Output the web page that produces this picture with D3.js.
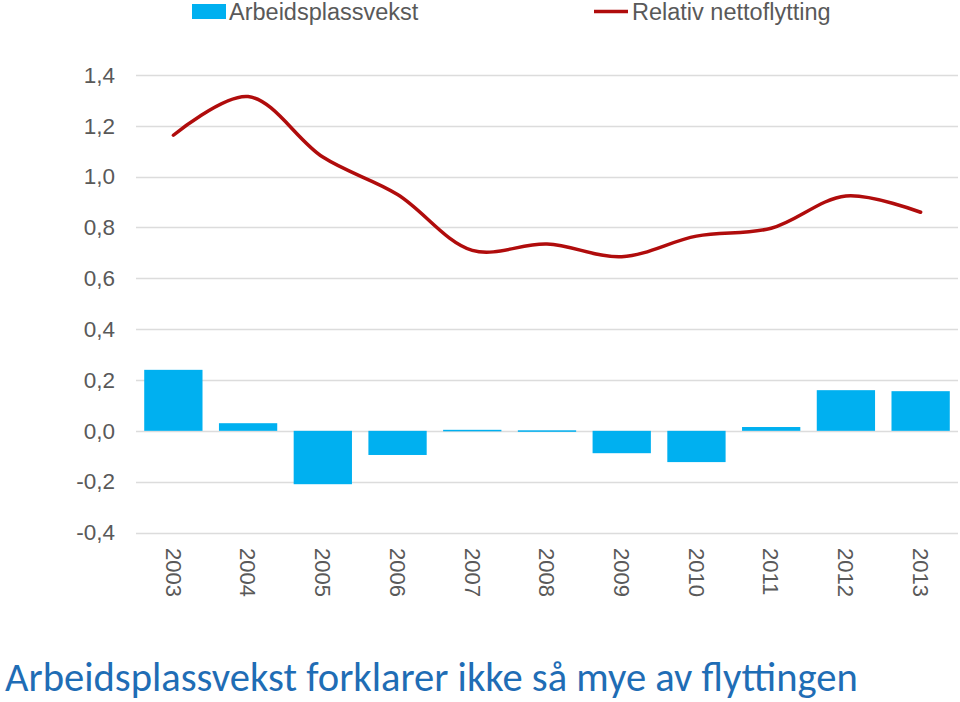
<!DOCTYPE html>
<html>
<head>
<meta charset="utf-8">
<script src="https://cdn.jsdelivr.net/npm/d3@7"></script>
<style>
  html, body { margin: 0; padding: 0; background: #fff; }
  svg { display: block; }
</style>
</head>
<body>
<svg id="chart" width="960" height="702"></svg>
<script>
const years = ["2003","2004","2005","2006","2007","2008","2009","2010","2011","2012","2013"];
const jobGrowth = [0.24, 0.03, -0.21, -0.095, 0.004, 0.002, -0.088, -0.123, 0.015, 0.16, 0.156];
const netMigration = [1.163, 1.315, 1.077, 0.93, 0.71, 0.735, 0.685, 0.766, 0.797, 0.924, 0.86];
const yTicks = [-0.4, -0.2, 0.0, 0.2, 0.4, 0.6, 0.8, 1.0, 1.2, 1.4];
const seriesNames = ["Arbeidsplassvekst", "Relativ nettoflytting"];
const titleText = "Arbeidsplassvekst forklarer ikke så mye av flyttingen";

const svg = d3.select("#chart");
const plot = { left: 136, right: 958, top: 75, bottom: 532.5 };

const x = d3.scaleBand().domain(years).range([plot.left, plot.right]).paddingInner(0.22).paddingOuter(0.11);
const y = d3.scaleLinear().domain([-0.4, 1.4]).range([plot.bottom, plot.top]);
const fmt = d => d3.format(".1f")(d).replace(".", ",").replace("−", "-");
const labelFont = "Liberation Sans, Arial, sans-serif";

// gridlines
svg.append("g").selectAll("line").data(yTicks).join("line")
  .attr("x1", plot.left).attr("x2", plot.right)
  .attr("y1", d => Math.round(y(d)) + 0.5).attr("y2", d => Math.round(y(d)) + 0.5)
  .attr("stroke", "#dcdcdc").attr("stroke-width", 1.3);

// y axis labels
const yAxis = d3.axisLeft(y).tickValues(yTicks).tickFormat(fmt).tickSize(0).tickPadding(0);
const ya = svg.append("g").attr("transform", `translate(115,0)`).call(yAxis);
ya.select(".domain").remove();
ya.selectAll("text").attr("font-family", labelFont)
  .attr("font-size", 22.5).attr("fill", "#595959");

// bars
svg.append("g").selectAll("rect").data(years).join("rect")
  .attr("x", d => x(d))
  .attr("width", x.bandwidth())
  .attr("y", (d, i) => y(Math.max(0, jobGrowth[i])))
  .attr("height", (d, i) => Math.max(1.5, Math.abs(y(jobGrowth[i]) - y(0))))
  .attr("fill", "#00b0f0");

// line
const cx = d => x(d) + x.bandwidth() / 2;
const line = d3.line().x((d, i) => cx(years[i])).y(d => y(d)).curve(d3.curveCatmullRom.alpha(0.5));
svg.append("path").datum(netMigration).attr("d", line)
  .attr("fill", "none").attr("stroke", "#b00c0c").attr("stroke-width", 3.5)
  .attr("stroke-linecap", "round").attr("stroke-linejoin", "round");

// x axis labels (rotated)
const xAxis = d3.axisBottom(x).tickSize(0).tickPadding(0);
const xa = svg.append("g").attr("transform", `translate(0,548)`).call(xAxis);
xa.select(".domain").remove();
xa.selectAll("text")
  .attr("font-family", labelFont)
  .attr("font-size", 22).attr("fill", "#595959")
  .attr("transform", "rotate(90)")
  .attr("text-anchor", "start")
  .attr("x", 0).attr("y", 0).attr("dy", "0.35em");

// legend
const lg = svg.append("g").attr("font-family", labelFont).attr("font-size", 23.5).attr("fill", "#595959");
lg.append("rect").attr("x", 192).attr("y", 4).attr("width", 34).attr("height", 15).attr("fill", "#00b0f0");
lg.append("text").attr("x", 229).attr("y", 20).text(seriesNames[0]);
lg.append("line").attr("x1", 594).attr("x2", 628).attr("y1", 11.5).attr("y2", 11.5)
  .attr("stroke", "#b00c0c").attr("stroke-width", 3.5);
lg.append("text").attr("x", 632).attr("y", 20).text(seriesNames[1]);

// title
const t = svg.append("text").attr("x", 5).attr("y", 691)
  .attr("font-family", "Carlito, Lato, 'Open Sans', sans-serif")
  .attr("font-size", 38).attr("fill", "#1f6db5").text(titleText);
const w = t.node().getComputedTextLength();
t.attr("font-size", 38 * 853 / w);
</script>
</body>
</html>
